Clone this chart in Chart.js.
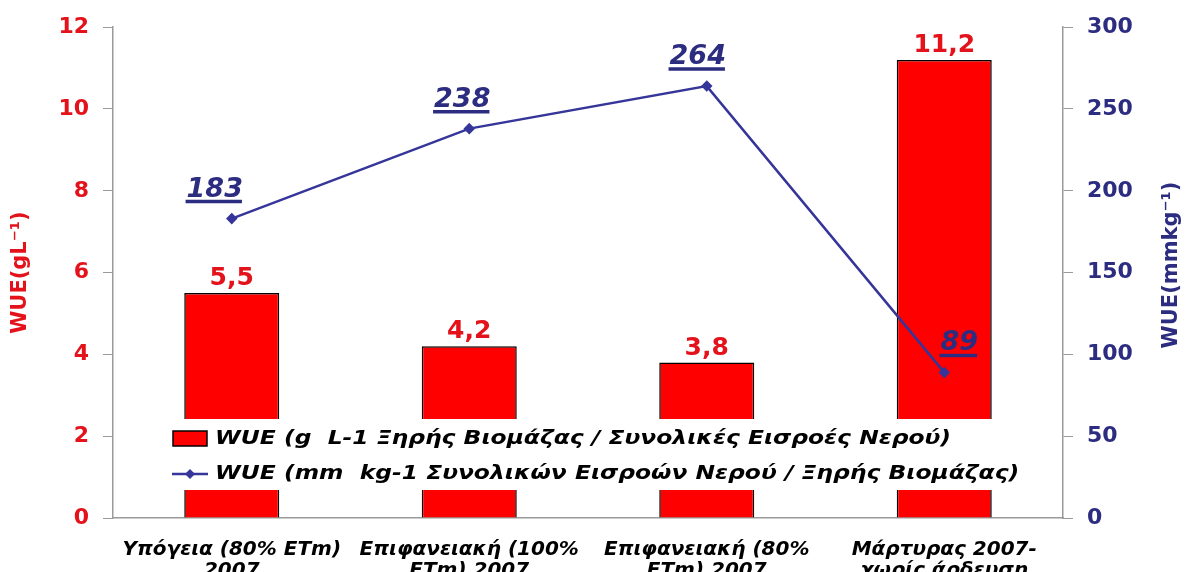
<!DOCTYPE html>
<html lang="el">
<head>
<meta charset="UTF-8">
<title>WUE</title>
<script src="https://cdn.jsdelivr.net/npm/chart.js"></script>
<style>
  html, body { margin: 0; padding: 0; background: #fff; }
  #wrap { width: 1187px; height: 572px; position: relative; }
</style>
</head>
<body>
<div id="wrap"><canvas id="wueChart"></canvas></div>
<script>
// data
const categories = [
    ['Υπόγεια (80% ETm)', '2007'],
    ['Επιφανειακή (100%', 'ETm) 2007'],
    ['Επιφανειακή (80%', 'ETm) 2007'],
    ['Μάρτυρας 2007-', 'χωρίς άρδευση']
];
const wueBiomass = [5.5, 4.2, 3.8, 11.2];     // g L-1, bars, left axis
const wueWater = [183, 238, 264, 89];         // mm kg-1, line, right axis
const leftTicks = [0, 2, 4, 6, 8, 10, 12];
const rightTicks = [0, 50, 100, 150, 200, 250, 300];
const barLegend = 'WUE (g  L-1 Ξηρής Βιομάζας / Συνολικές Εισροές Νερού)';
const lineLegend = 'WUE (mm  kg-1 Συνολικών Εισροών Νερού / Ξηρής Βιομάζας)';

const RED = '#ff0000';
const RED_TXT = '#e3121b';
const NAVY = '#2c2c80';
const NAVY_LINE = '#35359a';
const FONT = '"DejaVu Sans", sans-serif';

// the original text is a bit wider than the font, so stretch it a little
function wideText(ctx, txt, x, y, sx) {
    ctx.save();
    ctx.translate(x, y);
    ctx.scale(sx, 1);
    ctx.fillText(txt, 0, 0);
    ctx.restore();
}

// legend drawn inside the plot on a white box, plus value labels and right title
const extras = {
    id: 'extras',
    afterDatasetsDraw(chart) {
        const ctx = chart.ctx;
        ctx.save();

        // legend box
        ctx.fillStyle = '#fff';
        ctx.fillRect(165, 419, 880, 71);
        ctx.fillStyle = RED;
        ctx.fillRect(173, 431, 34, 15);
        ctx.strokeStyle = '#000';
        ctx.lineWidth = 1.5;
        ctx.strokeRect(173, 431, 34, 15);
        ctx.font = 'italic bold 20px ' + FONT;
        ctx.fillStyle = '#000';
        ctx.textBaseline = 'middle';
        ctx.textAlign = 'left';
        wideText(ctx, chart.data.datasets[0].label, 215, 439, 1.17);

        ctx.strokeStyle = NAVY_LINE;
        ctx.lineWidth = 2.5;
        ctx.beginPath();
        ctx.moveTo(172, 474);
        ctx.lineTo(208, 474);
        ctx.stroke();
        ctx.fillStyle = NAVY_LINE;
        ctx.beginPath();
        ctx.moveTo(190, 469); ctx.lineTo(195, 474); ctx.lineTo(190, 479); ctx.lineTo(185, 474);
        ctx.closePath();
        ctx.fill();
        ctx.fillStyle = '#000';
        wideText(ctx, chart.data.datasets[1].label, 215, 474, 1.17);

        // bar value labels
        const barMeta = chart.getDatasetMeta(0);
        ctx.font = 'bold 25px ' + FONT;
        ctx.fillStyle = RED_TXT;
        ctx.textAlign = 'center';
        ctx.textBaseline = 'alphabetic';
        barMeta.data.forEach((bar, i) => {
            const txt = wueBiomass[i].toFixed(1).replace('.', ',');
            ctx.fillText(txt, bar.x, bar.y - 8);
        });

        // line value labels, underlined
        const lineMeta = chart.getDatasetMeta(1);
        const shiftX = [-17, -7, -9, 15];
        ctx.font = 'italic bold 27px ' + FONT;
        ctx.fillStyle = NAVY;
        ctx.strokeStyle = NAVY;
        ctx.lineWidth = 3.5;
        lineMeta.data.forEach((pt, i) => {
            const txt = String(wueWater[i]);
            const cx = pt.x + shiftX[i];
            const by = pt.y - 22;
            ctx.fillText(txt, cx, by);
            const w = ctx.measureText(txt).width;
            ctx.beginPath();
            ctx.moveTo(cx - w / 2 - 1, by + 5);
            ctx.lineTo(cx + w / 2 - 1, by + 5);
            ctx.stroke();
        });

        // right axis title, reading bottom to top
        ctx.translate(1172, 265);
        ctx.rotate(-Math.PI / 2);
        ctx.font = 'bold 21px ' + FONT;
        ctx.fillStyle = NAVY;
        ctx.textBaseline = 'middle';
        ctx.fillText('WUE(mmkg⁻¹)', 0, 0);

        ctx.restore();
    }
};

const ctx = document.getElementById('wueChart').getContext('2d');
new Chart(ctx, {
    data: {
        labels: categories,
        datasets: [
            {
                type: 'bar',
                label: barLegend,
                data: wueBiomass,
                yAxisID: 'y',
                backgroundColor: RED,
                borderColor: '#000',
                borderWidth: 1.5,
                barPercentage: 0.4,
                categoryPercentage: 1,
                order: 2
            },
            {
                type: 'line',
                label: lineLegend,
                data: wueWater,
                yAxisID: 'y2',
                borderColor: NAVY_LINE,
                backgroundColor: NAVY_LINE,
                borderWidth: 2.5,
                pointStyle: 'rectRot',
                pointRadius: 4,
                pointHoverRadius: 4,
                tension: 0,
                order: 1
            }
        ]
    },
    options: {
        responsive: true,
        maintainAspectRatio: false,
        animation: false,
        layout: { padding: { top: 24, left: 0, right: 0, bottom: 0 } },
        plugins: {
            legend: { display: false },
            tooltip: { enabled: false }
        },
        scales: {
            x: {
                grid: { display: false },
                border: { color: '#9a9a9a', width: 1.5 },
                ticks: {
                    color: '#000',
                    font: { family: FONT, size: 20, style: 'italic', weight: 'bold', lineHeight: 1.05 },
                    padding: 13,
                    maxRotation: 0,
                    autoSkip: false
                },
                afterFit: s => { s.height = 54; }
            },
            y: {
                position: 'left',
                min: 0, max: 12,
                afterBuildTicks: s => { s.ticks = leftTicks.map(v => ({ value: v })); },
                grid: { drawOnChartArea: false, tickLength: 10, color: '#9a9a9a' },
                border: { color: '#9a9a9a', width: 1.5 },
                ticks: {
                    color: RED_TXT,
                    font: { family: FONT, size: 22, weight: 'bold' },
                    padding: 14
                },
                title: {
                    display: true,
                    text: 'WUE(gL⁻¹)',
                    color: RED_TXT,
                    font: { family: FONT, size: 21, weight: 'bold' },
                    padding: { top: 8, bottom: 0 }
                },
                afterFit: s => { s.width = 113; }
            },
            y2: {
                position: 'right',
                min: 0, max: 300,
                afterBuildTicks: s => { s.ticks = rightTicks.map(v => ({ value: v })); },
                grid: { drawOnChartArea: false, tickLength: 10, color: '#9a9a9a' },
                border: { color: '#9a9a9a', width: 1.5 },
                ticks: {
                    color: NAVY,
                    font: { family: FONT, size: 22, weight: 'bold' },
                    padding: 14
                },
                afterFit: s => { s.width = 124; }
            }
        }
    },
    plugins: [extras]
});
</script>
</body>
</html>
